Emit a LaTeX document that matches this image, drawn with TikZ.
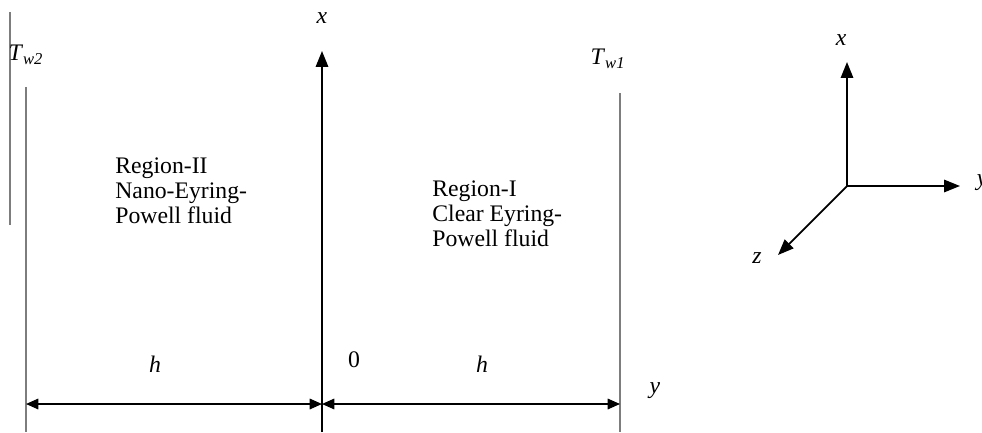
\documentclass[tikz,border=0pt]{standalone}
\usepackage{fontspec}
\setmainfont{Liberation Serif}
\usetikzlibrary{arrows.meta}
\definecolor{WallGray}{RGB}{125,125,125}

\tikzset{
    wall/.style={WallGray, line width=1.2pt},
    axis/.style={-{Triangle[length=9pt, width=7pt]}, line width=1pt, black},
    dimline/.style={{Triangle[length=7pt, width=6pt]}-{Triangle[length=7pt, width=6pt]}, line width=0.9pt, black},
    regiontext/.style={align=left, anchor=north west, inner sep=0pt}
}

\begin{document}
\begin{tikzpicture}[x=0.02cm, y=-0.02cm, every node/.style={font=\fontsize{13.5}{14.3}\selectfont}]
        \useasboundingbox (0,0) rectangle (982,432);
        \clip (0,0) rectangle (982,432);

        % --- Walls and centre axis ---
        \draw[WallGray, line width=0.6pt] (10,12) -- (10,225);
        \coordinate (wallLtop) at (26,87);
        \coordinate (wallLbot) at (26,432);
        \coordinate (wallRtop) at (620,93);
        \coordinate (wallRbot) at (620,432);
        \draw[wall] (wallLtop) -- (wallLbot);
        \draw[wall] (wallRtop) -- (wallRbot);

        \coordinate (axisBot) at (322,432);
        \coordinate (axisTop) at (322,51);
        \draw[axis, line width=1.1pt] (axisBot) -- (axisTop);
        \node (xlabel) at (322,18) {\textit{x}};

        % Wall temperatures
        \node (Tw2) at (26,55) {\textit{T}\textsubscript{\textit{w2}}};
        \node (Tw1) at (608,59) {\textit{T}\textsubscript{\textit{w1}}};

        % Region labels
        \node[regiontext] (regII) at (115,157) {Region-II\\Nano-Eyring-\\Powell fluid};
        \node[regiontext] (regI) at (432,180) {Region-I\\Clear Eyring-\\Powell fluid};

        % --- Dimension arrows ---
        \coordinate (dimL) at (26,404);
        \coordinate (dimO) at (322,404);
        \coordinate (dimR) at (620,404);
        \draw[dimline] (dimL) -- (dimO);
        \draw[dimline] (dimO) -- (dimR);
        \node (hL) at (155,364) {\textit{h}};
        \node (hR) at (482,364) {\textit{h}};
        \node (zero) at (354,360) {0};
        \node (ylabel) at (655,391) {\textit{y}};

        % --- Coordinate triad ---
        \coordinate (O3) at (847,186);
        \coordinate (X3) at (847,62);
        \coordinate (Y3) at (960,186);
        \coordinate (Z3) at (778,255);
        \draw[axis] (O3) -- (X3);
        \draw[axis] (O3) -- (Y3);
        \draw[axis] (O3) -- (Z3);
        \node (x3lab) at (841,40) {\textit{x}};
        \node (y3lab) at (982,183) {\textit{y}};
        \node (z3lab) at (757,258) {\textit{z}};

    \end{tikzpicture}
\end{document}
